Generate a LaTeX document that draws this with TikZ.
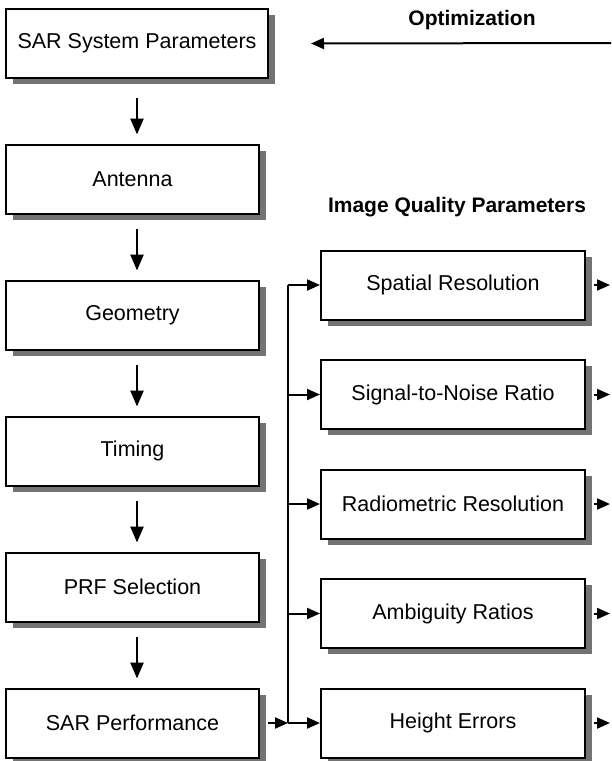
\documentclass[tikz,border=0pt]{standalone}
\usepackage{fontspec}
\setmainfont{Liberation Sans}
\usetikzlibrary{arrows.meta,shadows}

\tikzset{box/.style={draw,line width=2pt,fill=white,inner sep=0pt,minimum height=69pt,
    font=\fontsize{21.5}{25}\selectfont,
    drop shadow={shadow xshift=7pt,shadow yshift=-6pt,fill=black!55,opacity=1}},
  lbox/.style={box,minimum width=253pt},
  rbox/.style={box,minimum width=264pt},
  head/.style={font=\fontsize{21}{25}\selectfont\bfseries},
  flow/.style={-{Triangle[length=13pt,width=11pt]},line width=2pt},
  down/.style={-{Triangle[length=16pt,width=13pt]},line width=2.5pt}}

\begin{document}
\begin{tikzpicture}[line join=miter,x=1pt,y=-1pt]
            \useasboundingbox (0,0) rectangle (611,761);
            \node[box,minimum width=262pt] (sys) at (137,43.5) {SAR System Parameters};
            \node[lbox] (ant) at (132.5,179) {Antenna};
            \node[lbox] (geo) at (132.5,315) {Geometry};
            \node[lbox] (tim) at (132.5,451) {Timing};
            \node[lbox] (prf) at (132.5,587) {PRF Selection};
            \node[lbox] (perf) at (132.5,723) {SAR Performance};
            \node[rbox] (spat) at (453,285) {Spatial Resolution};
            \node[rbox] (snr) at (453,394.5) {Signal-to-Noise Ratio};
            \node[rbox] (rad) at (453,504) {Radiometric Resolution};
            \node[rbox] (amb) at (453,613.5) {Ambiguity Ratios};
            \node[rbox] (hgt) at (453,723) {Height Errors};
            \node[head] (opt) at (472,20) {Optimization};
            \node[head] (iqp) at (457,207) {Image Quality Parameters};
            \coordinate (optR) at (611,43);
            \coordinate (edge) at (610,0);
            \coordinate (bus) at (288,0);
            % chain of system steps
            \draw[down,shorten <=19pt,shorten >=9pt] (sys.south) -- (ant.north -| sys);
            \foreach \a/\b in {ant/geo,geo/tim,tim/prf,prf/perf}
                \draw[down,shorten <=14pt,shorten >=9pt] (\a.south -| sys) -- (\b.north -| sys);
            \draw[flow] (optR) -- ([xshift=42]sys.east);
            % distribution to the quality parameters
            \draw[line width=2pt] (bus |- spat.west) -- (bus |- hgt.west);
            \draw[flow] ([xshift=8]perf.east) -- (bus |- perf.east);
            \foreach \n in {spat,snr,rad,amb,hgt}{
                \draw[flow] (bus |- \n.west) -- (\n.west);
                \draw[flow] ([xshift=8]\n.east) -- (edge |- \n.east);
            }
\end{tikzpicture}
\end{document}
